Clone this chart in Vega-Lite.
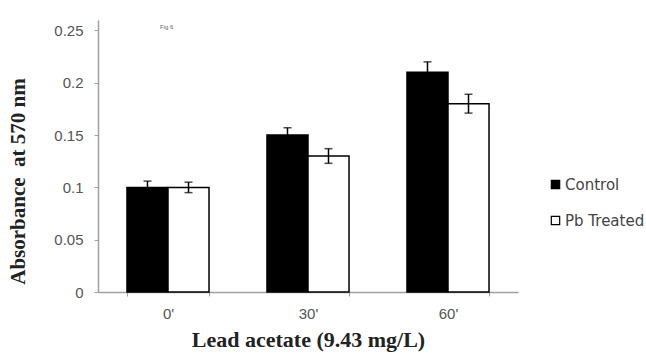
{
  "$schema": "https://vega.github.io/schema/vega-lite/v6.json",
  "width": 420,
  "height": 272,
  "autosize": {"type": "none"},
  "padding": {"left": 98, "top": 20, "right": 128, "bottom": 63},
  "background": "white",
  "title": {"text": "Fig 6", "fontSize": 6, "font": "Liberation Sans", "color": "#666", "anchor": "start", "frame": "group", "dx": 62, "offset": -10, "fontWeight": "normal"},
  "config": {
    "view": {"stroke": null},
    "axis": {"domainColor": "#a0a0a0", "tickColor": "#a0a0a0", "labelColor": "#555", "labelFont": "Liberation Sans", "labelFontSize": 15, "titleFont": "Liberation Serif", "titleFontWeight": "bold", "titleColor": "#222", "grid": false, "domainWidth": 1.5, "tickSize": 4}
  },
  "data": {"values": [
    {"time": "0'", "group": "Control", "value": 0.100, "lo": 0.095, "hi": 0.106},
    {"time": "0'", "group": "Pb Treated", "value": 0.100, "lo": 0.095, "hi": 0.105},
    {"time": "30'", "group": "Control", "value": 0.150, "lo": 0.142, "hi": 0.157},
    {"time": "30'", "group": "Pb Treated", "value": 0.130, "lo": 0.123, "hi": 0.137},
    {"time": "60'", "group": "Control", "value": 0.210, "lo": 0.200, "hi": 0.220},
    {"time": "60'", "group": "Pb Treated", "value": 0.180, "lo": 0.171, "hi": 0.189}
  ]},
  "encoding": {
    "x": {"field": "time", "type": "nominal", "sort": ["0'", "30'", "60'"],
      "scale": {"paddingInner": 0.414, "paddingOuter": 0.207},
      "axis": {"title": "Lead acetate (9.43 mg/L)", "titleFontSize": 22, "labelAngle": 0, "tickBand": "extent", "labelPadding": 10, "titlePadding": 8}},
    "xOffset": {"field": "group", "type": "nominal", "sort": ["Control", "Pb Treated"], "scale": {"paddingInner": 0, "paddingOuter": 0}}
  },
  "layer": [
    {
      "mark": {"type": "bar", "stroke": "black", "strokeWidth": 1.5},
      "encoding": {
        "y": {"field": "value", "type": "quantitative", "scale": {"domain": [0, 0.25]},
          "axis": {"title": "Absorbance\u00a0 at 570 nm", "titleFontSize": 21, "values": [0, 0.05, 0.1, 0.15, 0.2, 0.25], "format": "~g", "labelPadding": 11, "titleX": -70, "titleY": 161}},
        "fill": {"field": "group", "type": "nominal", "sort": ["Control", "Pb Treated"],
          "scale": {"domain": ["Control", "Pb Treated"], "range": ["black", "white"]},
          "legend": {"title": null, "orient": "none", "legendX": 450, "legendY": 157, "symbolType": "square", "symbolSize": 70, "symbolStrokeColor": "black", "symbolStrokeWidth": 1.2, "labelFont": "DejaVu Sans", "labelFontSize": 15, "labelColor": "#444", "rowPadding": 20, "labelOffset": 2}}
      }
    },
    {
      "mark": {"type": "rule", "color": "black", "strokeWidth": 1.5},
      "encoding": {
        "y": {"field": "lo", "type": "quantitative"},
        "y2": {"field": "hi"}
      }
    },
    {
      "mark": {"type": "tick", "color": "black", "size": 8, "thickness": 1.5},
      "encoding": {"y": {"field": "hi", "type": "quantitative"}}
    },
    {
      "mark": {"type": "tick", "color": "black", "size": 8, "thickness": 1.5},
      "encoding": {"y": {"field": "lo", "type": "quantitative"}}
    }
  ]
}
